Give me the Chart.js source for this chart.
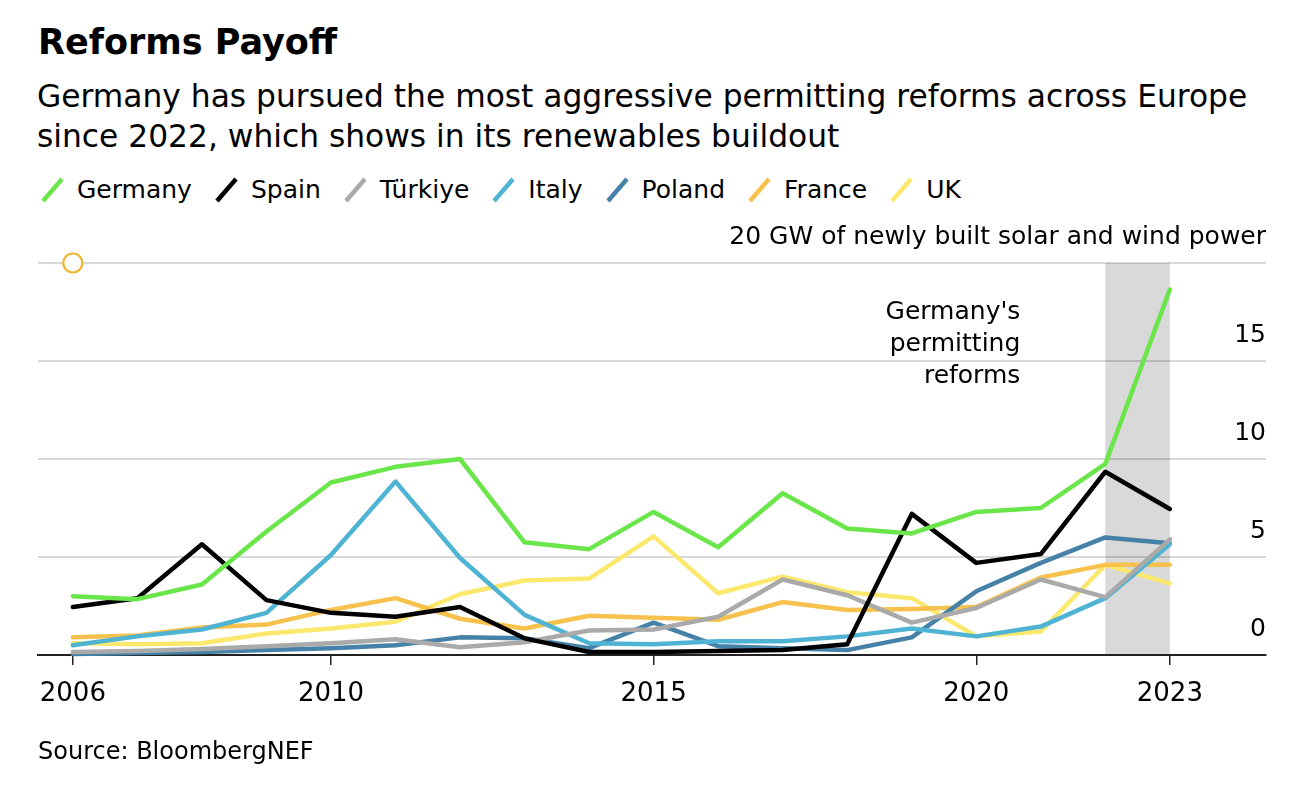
<!DOCTYPE html>
<html>
<head>
<meta charset="utf-8">
<script src="https://cdn.jsdelivr.net/npm/chart.js@4.4.1/dist/chart.umd.min.js"></script>
<style>
  html, body { margin: 0; padding: 0; background: #fff; }
  body { width: 1306px; height: 800px; position: relative; overflow: hidden; font-family: "DejaVu Sans", sans-serif; color: #000; }
  #chart { position: absolute; left: 0; top: 0; }
  .title { position: absolute; left: 38px; top: 22px; font-size: 35px; line-height: 40px; font-weight: bold; white-space: nowrap; }
  .subtitle { position: absolute; left: 37px; top: 76px; font-size: 31.3px; line-height: 40px; white-space: nowrap; }
  .legend { position: absolute; left: 40px; top: 175px; height: 30px; display: flex; align-items: center; font-size: 25px; line-height: 30px; white-space: nowrap; }
  .legend .item { display: flex; align-items: center; margin-right: 22px; }
  .legend svg { margin-right: 12px; display: block; }
  .source { position: absolute; left: 38px; top: 737px; font-size: 24px; line-height: 28px; white-space: nowrap; }
</style>
</head>
<body>
<div class="title">Reforms Payoff</div>
<div class="subtitle">Germany has pursued the most aggressive permitting reforms across Europe<br>since 2022, which shows in its renewables buildout</div>
<div class="legend" id="legend"></div>
<canvas id="chart" width="1306" height="800"></canvas>
<div class="source">Source: BloombergNEF</div>
<script>
// ---- data ----
const years = [2006, 2007, 2008, 2009, 2010, 2011, 2012, 2013, 2014, 2015, 2016, 2017, 2018, 2019, 2020, 2021, 2022, 2023];
const countries = ["Germany", "Spain", "Türkiye", "Italy", "Poland", "France", "UK"];
const germany = [3.0, 2.85, 3.6, 6.3, 8.8, 9.6, 10.0, 5.75, 5.4, 7.3, 5.5, 8.25, 6.45, 6.2, 7.3, 7.5, 9.75, 18.65];
const spain   = [2.45, 2.9, 5.65, 2.8, 2.15, 1.95, 2.45, 0.85, 0.15, 0.15, 0.2, 0.25, 0.55, 7.2, 4.7, 5.15, 9.35, 7.45];
const turkiye = [0.15, 0.2, 0.3, 0.45, 0.6, 0.8, 0.4, 0.65, 1.25, 1.3, 1.95, 3.85, 3.05, 1.65, 2.4, 3.85, 2.95, 5.9];
const italy   = [0.5, 0.95, 1.3, 2.15, 5.1, 8.85, 4.95, 2.05, 0.6, 0.55, 0.7, 0.7, 0.95, 1.35, 0.95, 1.45, 2.9, 5.65];
const poland  = [0.05, 0.1, 0.15, 0.25, 0.35, 0.5, 0.9, 0.85, 0.35, 1.65, 0.45, 0.35, 0.25, 0.9, 3.25, 4.7, 6.0, 5.7];
const france  = [0.9, 1.0, 1.4, 1.55, 2.3, 2.9, 1.85, 1.35, 2.0, 1.9, 1.8, 2.7, 2.3, 2.35, 2.45, 3.95, 4.6, 4.6];
const uk      = [0.6, 0.55, 0.6, 1.1, 1.35, 1.7, 3.1, 3.8, 3.9, 6.05, 3.15, 4.0, 3.2, 2.9, 0.95, 1.2, 4.6, 3.65];
const seriesValues = [germany, spain, turkiye, italy, poland, france, uk];
const xTickValues = [2006, 2010, 2015, 2020, 2023];
const yTickValues = [0, 5, 10, 15, 20];
const yUnitLabel = "20 GW of newly built solar and wind power";
const reformStart = 2022;
const reformEnd = 2023;
const annotationLines = ["Germany's", "permitting", "reforms"];
const markerYears = [2006];
const markerValues = [20];

// ---- styles ----
const colors = ["#6be64a", "#000000", "#aaaaaa", "#4fb3d3", "#4682a8", "#f6c14c", "#fbe86c"];

// legend
const legendEl = document.getElementById('legend');
countries.forEach((name, i) => {
  const item = document.createElement('div');
  item.className = 'item';
  item.innerHTML = '<svg width="25" height="26"><line x1="3" y1="24" x2="22" y2="2" stroke="' + colors[i] + '" stroke-width="4.5"/></svg><span>' + name + '</span>';
  legendEl.appendChild(item);
});

const datasets = countries.map((name, i) => ({
  label: name,
  data: years.map((yr, j) => ({ x: yr, y: seriesValues[i][j] })),
  borderColor: colors[i],
  backgroundColor: colors[i],
  borderWidth: 4.5,
  pointRadius: 0,
  tension: 0,
  borderCapStyle: 'round',
  borderJoinStyle: 'round',
  clip: false
}));
datasets.push({
  type: 'scatter',
  label: 'marker',
  data: markerYears.map((yr, j) => ({ x: yr, y: markerValues[j] })),
  pointRadius: 9.5,
  pointBorderWidth: 2.2,
  pointBorderColor: '#f0b52e',
  pointBackgroundColor: '#ffffff',
  clip: false
});

const shadePlugin = {
  id: 'shade',
  beforeDraw(chart) {
    const { ctx, scales: { x, y } } = chart;
    const x0 = x.getPixelForValue(reformStart);
    const x1 = x.getPixelForValue(reformEnd);
    const y0 = y.getPixelForValue(y.max);
    const y1 = y.getPixelForValue(0);
    ctx.save();
    ctx.fillStyle = '#d9d9d9';
    ctx.fillRect(x0, y0, x1 - x0, y1 - y0);
    ctx.restore();
  },
  afterDatasetsDraw(chart) {
    const { ctx, chartArea, scales: { x } } = chart;
    const xr = x.getPixelForValue(reformStart) - 85;
    ctx.save();
    ctx.font = '25px "DejaVu Sans"';
    ctx.fillStyle = '#000';
    ctx.textAlign = 'right';
    ctx.textBaseline = 'middle';
    annotationLines.forEach((t, i) => {
      ctx.fillText(t, xr, chartArea.top + 49 + i * 32);
    });
    ctx.restore();
  }
};

Chart.defaults.font.family = '"DejaVu Sans", sans-serif';
Chart.defaults.color = '#000';

new Chart(document.getElementById('chart'), {
  type: 'line',
  data: { datasets },
  plugins: [shadePlugin],
  options: {
    responsive: false,
    animation: false,
    events: [],
    layout: { padding: { left: 38, right: 40, top: 263, bottom: 95 } },
    plugins: { legend: { display: false }, tooltip: { enabled: false } },
    scales: {
      x: {
        type: 'linear',
        min: 2005.46,
        max: 2024.49,
        afterBuildTicks(scale) { scale.ticks = xTickValues.map(v => ({ value: v })); },
        afterFit(scale) { scale.height = 50; },
        grid: { display: true, drawOnChartArea: false, drawTicks: true, tickLength: 10, color: '#222', lineWidth: 1.5 },
        border: { display: true, color: '#222', width: 2 },
        ticks: { font: { size: 26 }, padding: 14, maxRotation: 0, autoSkip: false, callback: v => String(v) }
      },
      y: {
        type: 'linear',
        position: 'right',
        min: 0,
        max: 20,
        afterBuildTicks(scale) { scale.ticks = yTickValues.map(v => ({ value: v })); },
        afterFit(scale) { scale.width = 0; },
        grid: { color: 'rgba(0,0,0,0.15)', lineWidth: 2, drawTicks: false },
        border: { display: false },
        ticks: {
          mirror: true,
          padding: 0,
          labelOffset: -26,
          font: { size: 25 },
          callback: v => (v === 20 ? yUnitLabel : String(v))
        }
      }
    }
  }
});
</script>
</body>
</html>
